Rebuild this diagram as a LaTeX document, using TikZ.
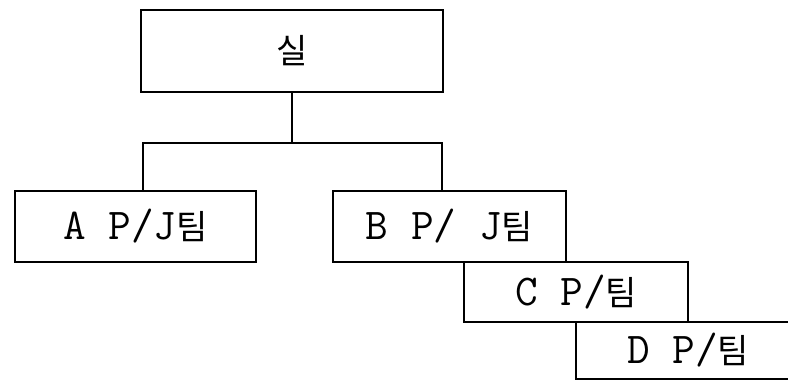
\documentclass[tikz,border=0pt]{standalone}
\usepackage{fontspec}
\newfontfamily\kr{Noto Sans CJK KR}
\newcommand{\lat}{\ttfamily\fontsize{44}{48}\selectfont}
\newcommand{\hg}[1]{{\kr\fontsize{34}{40}\selectfont #1}}
\begin{document}
\begin{tikzpicture}[x=1pt,y=-1pt,
  box/.style={draw=black, line width=1.6pt, fill=white, inner sep=0pt,
    minimum width=#1, font=\lat},
  conn/.style={draw=black, line width=1.6pt}]
\useasboundingbox (0,0) rectangle (788,381);
\clip (0,0) rectangle (788,381);
\fill[white] (0,0) rectangle (788,381);
\node[box=302pt, minimum height=82pt] (root) at (292,51) {\hg{실}};
\node[box=241pt, minimum height=71pt] (a) at (135.5,226.5) {A P/J\hg{팀}};
\node[box=233pt, minimum height=71pt] (b) at (449.5,226.5) {B P/ J\hg{팀}};
\node[box=224pt, minimum height=60pt] (c) at (576,292) {C P/\hg{팀}};
\node[box=224pt, minimum height=57pt] (d) at (688,350.5) {D P/\hg{팀}};
\coordinate (j) at (292,143);
\draw[conn] (root.south) -- (j);
\draw[conn] ([xshift=7.5pt]a.north) |- (j);
\draw[conn] (j) -| ([xshift=-7.5pt]b.north);
\end{tikzpicture}
\end{document}
